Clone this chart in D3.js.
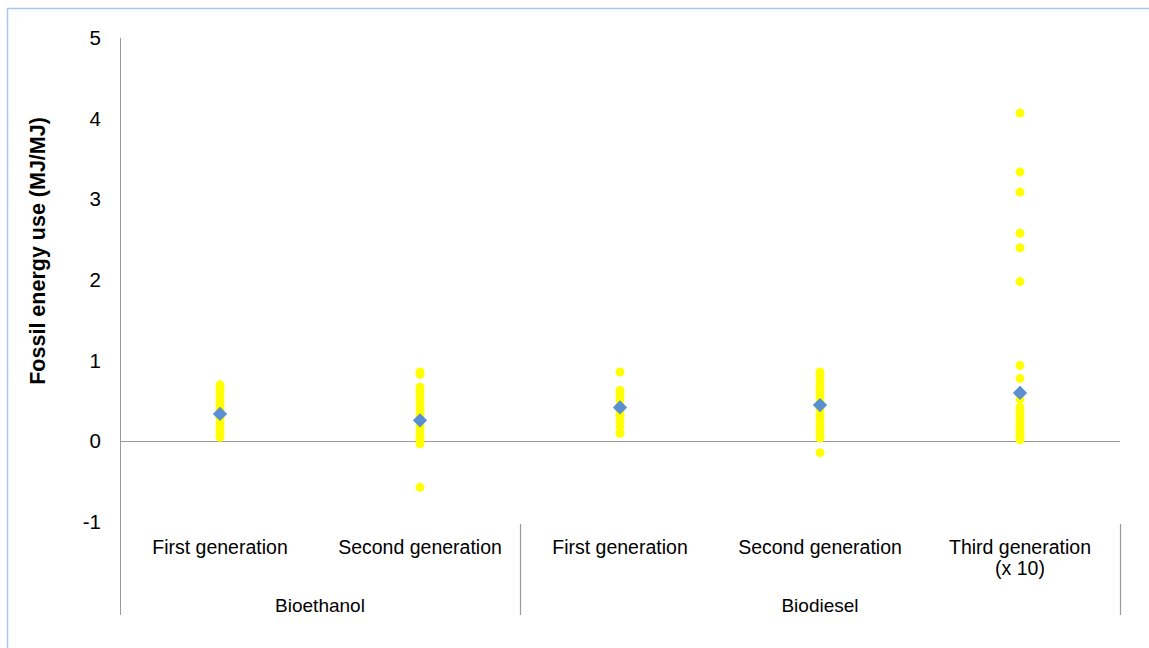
<!DOCTYPE html>
<html>
<head>
<meta charset="utf-8">
<script src="https://cdn.jsdelivr.net/npm/d3@7"></script>
<style>
  html, body { margin: 0; padding: 0; background: #fff; }
  svg { display: block; font-family: "Liberation Sans", Arial, sans-serif; }
</style>
</head>
<body>
<svg id="chart" width="1149" height="648"></svg>
<script>
// Categories (sub-generation labels, two lines where needed) and their groups
const categories = ["First generation", "Second generation", "First generation", "Second generation", "Third generation\n(x 10)"];
const groups = [
  { name: "Bioethanol", from: 0, to: 1 },
  { name: "Biodiesel", from: 2, to: 4 }
];
const yTicks = [-1, 0, 1, 2, 3, 4, 5];

// Individual study values per category (MJ fossil / MJ fuel)
const bioethanolFirst = [0.70, 0.66, 0.62, 0.56, 0.50, 0.45, 0.40, 0.30, 0.24, 0.19, 0.14, 0.09, 0.05];
const bioethanolSecond = [0.86, 0.83, 0.67, 0.63, 0.58, 0.52, 0.46, 0.40, 0.33, 0.26, 0.19, 0.13, 0.08, 0.04, 0.01, -0.03, -0.57];
const biodieselFirst = [0.86, 0.63, 0.58, 0.52, 0.45, 0.38, 0.32, 0.25, 0.18, 0.10];
const biodieselSecond = [0.86, 0.82, 0.76, 0.70, 0.65, 0.60, 0.55, 0.48, 0.40, 0.33, 0.27, 0.20, 0.14, 0.08, 0.04, -0.14];
const biodieselThird = [4.07, 3.34, 3.09, 2.58, 2.40, 1.98, 0.94, 0.78, 0.52, 0.42, 0.38, 0.33, 0.28, 0.24, 0.20, 0.16, 0.12, 0.08, 0.05, 0.02];
const seriesValues = [bioethanolFirst, bioethanolSecond, biodieselFirst, biodieselSecond, biodieselThird];

// Average per category
const averages = [0.34, 0.26, 0.42, 0.45, 0.60];

const svg = d3.select("#chart");

// Chart frame
svg.append("rect")
  .attr("x", 7.5).attr("y", 8.5)
  .attr("width", 1160).attr("height", 660)
  .attr("fill", "none").attr("stroke", "#a9c6ec").attr("stroke-width", 1.5);

const x = d3.scaleBand().domain(d3.range(categories.length)).range([120, 1120]);
const y = d3.scaleLinear().domain([-1, 5]).range([522, 38]);

const axisColor = "#9a9a9a";

// Y axis: line extends down through the category label area
svg.append("line")
  .attr("x1", 120.5).attr("x2", 120.5)
  .attr("y1", y(5)).attr("y2", 615)
  .attr("stroke", axisColor).attr("stroke-width", 1);

const yAxis = d3.axisLeft(y).tickValues(yTicks).tickSize(0).tickPadding(19).tickFormat(d => String(d));
const gy = svg.append("g").attr("transform", "translate(120,0)").call(yAxis);
gy.select(".domain").remove();
gy.selectAll("text")
  .attr("font-size", 20.5)
  .attr("fill", "#000")
  .attr("font-family", "Liberation Sans, Arial, sans-serif");

// Y axis title
svg.append("text")
  .attr("transform", `translate(45,${y(2.36)}) rotate(-90)`)
  .attr("text-anchor", "middle")
  .attr("font-size", 21.5)
  .attr("font-weight", "bold")
  .text("Fossil energy use (MJ/MJ)");

// Horizontal axis crossing at zero
svg.append("line")
  .attr("x1", 120).attr("x2", 1120)
  .attr("y1", Math.round(y(0)) + 0.5).attr("y2", Math.round(y(0)) + 0.5)
  .attr("stroke", axisColor).attr("stroke-width", 1.2);

// Group separators in the label area
const sepX = [x(groups[1].from), x(groups[1].to) + x.bandwidth()];
svg.selectAll(".sep").data(sepX).enter().append("line")
  .attr("x1", d => d + 0.5).attr("x2", d => d + 0.5)
  .attr("y1", 524).attr("y2", 615)
  .attr("stroke", axisColor).attr("stroke-width", 1.2);

// Category labels
const catLabels = svg.selectAll(".cat").data(categories).enter().append("text")
  .attr("text-anchor", "middle")
  .attr("font-size", 19.5)
  .attr("fill", "#000");
catLabels.each(function (d, i) {
  const lines = d.split("\n");
  d3.select(this).selectAll("tspan").data(lines).enter().append("tspan")
    .attr("x", x(i) + x.bandwidth() / 2)
    .attr("y", (l, j) => 554 + j * 21)
    .text(l => l);
});

// Group labels
svg.selectAll(".grp").data(groups).enter().append("text")
  .attr("x", g => (x(g.from) + x(g.to) + x.bandwidth()) / 2)
  .attr("y", 612)
  .attr("text-anchor", "middle")
  .attr("font-size", 19)
  .text(g => g.name);

// Individual values
const pts = seriesValues.flatMap((vals, i) => vals.map(v => ({ i, v })));
svg.selectAll(".pt").data(pts).enter().append("circle")
  .attr("cx", d => x(d.i) + x.bandwidth() / 2)
  .attr("cy", d => y(d.v))
  .attr("r", 4.5)
  .attr("fill", "#ffff00");

// Averages as diamonds
const diamond = d3.symbol().type(d3.symbolDiamond2).size(130);
svg.selectAll(".avg").data(averages).enter().append("path")
  .attr("d", diamond)
  .attr("transform", (v, i) => `translate(${x(i) + x.bandwidth() / 2},${y(v)})`)
  .attr("fill", "#5b8fd4");
</script>
</body>
</html>
